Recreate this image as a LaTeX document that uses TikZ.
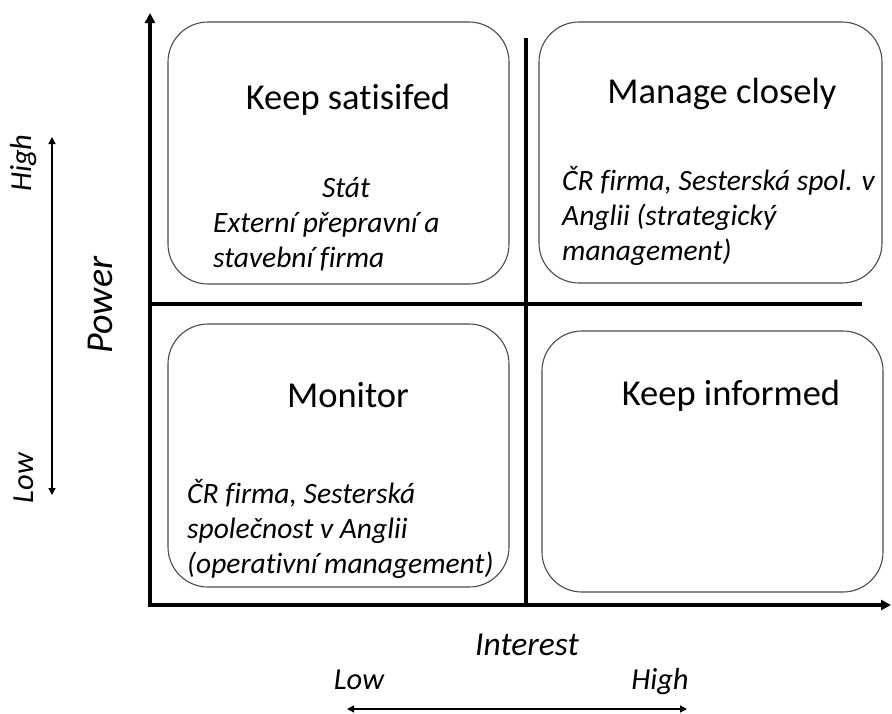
\documentclass[tikz,border=0pt]{standalone}
\usepackage{fontspec}
\setmainfont{Carlito}[Ligatures=CommonOff]
\usetikzlibrary{arrows.meta}
\definecolor{boxgray}{HTML}{4A4A4A}
\begin{document}
\begin{tikzpicture}[x=1pt,y=-1pt,
  quad/.style={draw=boxgray, line width=1.1pt, rounded corners=40pt, inner sep=0pt},
  title/.style={inner sep=0pt, anchor=base, font=\fontsize{36.5}{42}\selectfont},
  body/.style={inner sep=0pt, anchor=base west, font=\fontsize{29.5}{35}\selectfont\itshape},
  axlabel/.style={inner sep=0pt, anchor=base, font=\fontsize{33.5}{40}\selectfont\itshape},
  lvl/.style={inner sep=0pt, anchor=base, font=\fontsize{30.5}{36}\selectfont\itshape},
  divider/.style={line width=3.2pt},
  axes/.style={line width=3.2pt, line join=miter, {Triangle[width=10pt,length=10pt]}-{Triangle[width=10pt,length=10pt]}},
  scalearrow/.style={line width=1.3pt, {Triangle[width=7pt,length=7pt]}-{Triangle[width=7pt,length=7pt]}}
]
\useasboundingbox (0,0) rectangle (892,713);

% quadrant boxes
\node[quad, minimum width=341pt, minimum height=262pt] (ks) at (338.5,153) {};
\node[quad, minimum width=343pt, minimum height=261pt] (mc) at (710.5,152.5) {};
\node[quad, minimum width=341pt, minimum height=263pt] (mon) at (338.5,455.5) {};
\node[quad, minimum width=341pt, minimum height=261pt] (ki) at (712.5,461.5) {};

% axes and dividers
\coordinate (O) at (150,605);
\coordinate (Ytop) at (150,13);
\coordinate (Xend) at (891,605);
\coordinate (Vtop) at (526,38);
\coordinate (Vbot) at (526,605);
\coordinate (Hl) at (150,304);
\coordinate (Hr) at (862,304);
\draw[divider] (Vtop) -- (Vbot);
\draw[divider] (Hl) -- (Hr);
\draw[axes] (Ytop) -- (O) -- (Xend);

% titles
\node[title] (tks) at (348,109) {Keep satisifed};
\node[title] (tmc) at (722,103) {Manage closely};
\node[title] (tmon) at (348,407) {Monitor};
\node[title] (tki) at (731,405) {Keep informed};

% body texts
\node[body, anchor=base] (stat) at (346,197) {Stát};
\node[body] (ext1) at (213,232) {Externí přepravní a};
\node[body] (ext2) at (213,267) {stavební firma};

\node[body] (cr1) at (562,190) {ČR firma, Sesterská spol. v};
\node[body] (cr2) at (562,225) {Anglii (strategický};
\node[body] (cr3) at (562,260) {management)};

\node[body] (op1) at (187,503) {ČR firma, Sesterská};
\node[body] (op2) at (187,538) {společnost v Anglii};
\node[body] (op3) at (187,573) {(operativní management)};

% axis labels
\node[axlabel, rotate=90, font=\fontsize{38}{44}\selectfont\itshape] (power) at (112,305) {Power};
\node[axlabel] (interest) at (527,655) {Interest};

\node[lvl, rotate=90] (phigh) at (31,163) {High};
\node[lvl, rotate=90] (plow) at (33,478) {Low};
\node[lvl] (ilow) at (359,689) {Low};
\node[lvl] (ihigh) at (660,689) {High};

% scale arrows
\coordinate (pa) at (52,137);
\coordinate (pb) at (52,495);
\coordinate (ia) at (347,709);
\coordinate (ib) at (687,709);
\draw[scalearrow] (pa) -- (pb);
\draw[scalearrow] (ia) -- (ib);
\end{tikzpicture}
\end{document}
